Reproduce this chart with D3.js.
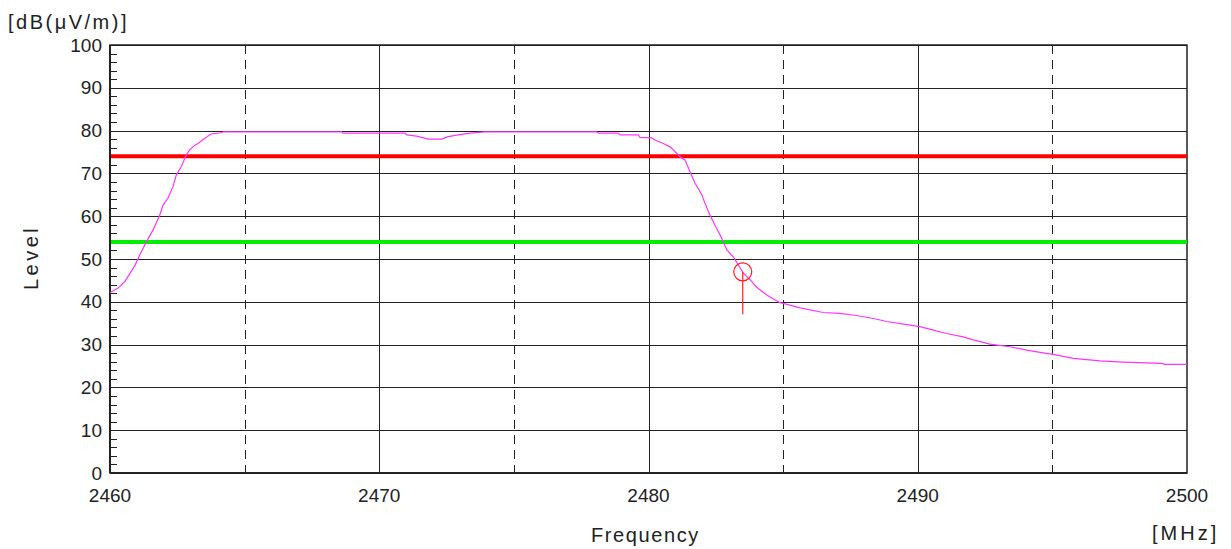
<!DOCTYPE html>
<html><head><meta charset="utf-8">
<script src="https://cdn.jsdelivr.net/npm/d3@7"></script>
<style>
body{margin:0;background:#fff;}
svg text{font-family:"Liberation Sans",Arial,sans-serif;fill:#222;}
</style></head>
<body><svg id="c" width="1231" height="549"></svg>
<script>
// ---- data ----
const freqTicks = [2460, 2470, 2480, 2490, 2500];
const dashedFreqs = [2465, 2475, 2485, 2495];
const levelTicks = [0,10,20,30,40,50,60,70,80,90,100];
const limitPeak = 74;   // red line
const limitAvg = 54;    // green line
const traceFreq = [2460.00,2460.30,2460.55,2460.92,2461.10,2461.35,2461.60,2461.85,2461.97,2462.15,2462.34,2462.46,2462.65,2462.83,2462.96,2463.15,2463.27,2463.52,2463.76,2464.13,2464.20,2468.61,2468.65,2470.96,2471.02,2471.39,2471.82,2472.32,2472.56,2472.94,2473.37,2473.93,2478.08,2478.14,2478.88,2478.94,2479.62,2479.68,2480.12,2480.24,2480.55,2480.80,2480.92,2481.17,2481.36,2481.54,2481.73,2481.98,2482.10,2482.28,2482.47,2482.66,2482.78,2482.91,2483.15,2483.34,2483.52,2483.77,2484.02,2484.14,2484.39,2484.63,2484.88,2485.07,2485.63,2486.49,2487.11,2487.73,2488.35,2488.85,2489.46,2490.08,2490.58,2491.07,2491.69,2492.06,2492.68,2493.43,2494.05,2494.54,2495.03,2495.78,2496.77,2497.63,2499.06,2499.18,2500.00];
const traceLevel = [42.1,43.2,44.7,48.4,50.9,54.0,56.8,60.3,62.6,64.2,66.9,69.6,71.6,74.3,75.5,76.6,77.0,78.2,79.2,79.5,79.7,79.7,79.4,79.4,79.0,78.7,78.0,78.0,78.6,79.0,79.4,79.7,79.7,79.4,79.4,79.0,79.0,78.4,78.3,77.8,77.0,76.2,75.5,73.9,73.1,70.4,67.7,65.0,63.0,60.3,57.9,55.6,54.0,52.1,50.5,48.6,46.7,45.2,43.4,42.8,41.6,40.7,39.8,39.5,38.6,37.5,37.3,36.8,36.1,35.4,34.8,34.2,33.4,32.6,31.8,31.1,30.1,29.5,28.7,28.2,27.7,26.8,26.2,25.9,25.6,25.4,25.4];
const markerFreq = 2483.5, markerLevel = 47.0, markerLineEnd = 37.1;

// ---- chart ----
const svg = d3.select("#c");
const L = 110, R = 1187, T = 45, B = 473;
const x = d3.scaleLinear().domain([2460, 2500]).range([L, R]);
const y = d3.scaleLinear().domain([0, 100]).range([B, T]);

// horizontal grid
svg.append("g").selectAll("line").data(levelTicks).join("line")
  .attr("x1", L).attr("x2", R).attr("y1", d => Math.round(y(d))+0.5).attr("y2", d => Math.round(y(d))+0.5)
  .attr("stroke", "#222").attr("stroke-width", 1);
// vertical solid grid
svg.append("g").selectAll("line").data(freqTicks.slice(1,-1)).join("line")
  .attr("x1", d => Math.round(x(d))+0.5).attr("x2", d => Math.round(x(d))+0.5).attr("y1", T).attr("y2", B)
  .attr("stroke", "#222").attr("stroke-width", 1);
// vertical dashed grid
svg.append("g").selectAll("line").data(dashedFreqs).join("line")
  .attr("x1", d => Math.round(x(d))+0.5).attr("x2", d => Math.round(x(d))+0.5).attr("y1", T).attr("y2", B)
  .attr("stroke", "#222").attr("stroke-width", 1).attr("stroke-dasharray", "9,6");
// minor ticks on y axis
const minor = d3.range(0, 101, 2);
svg.append("g").selectAll("line").data(minor).join("line")
  .attr("x1", L).attr("x2", L+7).attr("y1", d => Math.round(y(d))+0.5).attr("y2", d => Math.round(y(d))+0.5)
  .attr("stroke", "#222").attr("stroke-width", 1);

// frame
svg.append("rect").attr("x", L).attr("y", T).attr("width", R-L).attr("height", B-T)
  .attr("fill", "none").attr("stroke", "#222").attr("stroke-width", 1.5);
svg.append("line").attr("x1", L).attr("x2", L).attr("y1", T).attr("y2", B).attr("stroke","#222").attr("stroke-width",2);
svg.append("line").attr("x1", L).attr("x2", R).attr("y1", B).attr("y2", B).attr("stroke","#222").attr("stroke-width",2);

// limit lines
svg.append("line").attr("x1", L+1).attr("x2", R).attr("y1", y(limitPeak)).attr("y2", y(limitPeak))
  .attr("stroke", "#ff0000").attr("stroke-width", 4);
svg.append("line").attr("x1", L+1).attr("x2", R).attr("y1", y(limitAvg)).attr("y2", y(limitAvg))
  .attr("stroke", "#00ee00").attr("stroke-width", 4);

// trace
const pts = traceFreq.map((f, i) => [f, traceLevel[i]]);
svg.append("path").datum(pts)
  .attr("d", d3.line().x(d => x(d[0])).y(d => y(d[1])))
  .attr("fill", "none").attr("stroke", "#ff33ff").attr("stroke-width", 1.2);

// marker
svg.append("line").attr("x1", x(markerFreq)).attr("x2", x(markerFreq))
  .attr("y1", y(markerLevel)).attr("y2", y(markerLineEnd)).attr("stroke", "#ff2020").attr("stroke-width", 1.2);
svg.append("circle").attr("cx", x(markerFreq)).attr("cy", y(markerLevel)).attr("r", 9)
  .attr("fill", "none").attr("stroke", "#ff2020").attr("stroke-width", 1.2);

// y tick labels
svg.append("g").selectAll("text").data(levelTicks).join("text")
  .attr("x", 102).attr("y", d => y(d)).attr("dy", "0.35em").attr("text-anchor", "end")
  .attr("font-size", 19).text(d => d);
// x tick labels
svg.append("g").selectAll("text").data(freqTicks).join("text")
  .attr("x", d => x(d)).attr("y", 495).attr("dy", "0.35em").attr("text-anchor", "middle")
  .attr("font-size", 19).text(d => d);

// axis titles
svg.append("text").attr("x", 591).attr("y", 535).attr("dy", "0.35em").attr("text-anchor", "start")
  .attr("font-size", 20).attr("letter-spacing", 1.6).text("Frequency");
svg.append("text").attr("x", 1152).attr("y", 533).attr("dy", "0.35em").attr("text-anchor", "start")
  .attr("font-size", 20).attr("letter-spacing", 3).text("[MHz]");
svg.append("text").attr("transform", "translate(31,290) rotate(-90)").attr("dy", "0.35em").attr("text-anchor", "start")
  .attr("font-size", 20).attr("letter-spacing", 3.5).text("Level");
svg.append("text").attr("x", 8).attr("y", 22).attr("dy", "0.35em").attr("text-anchor", "start")
  .attr("font-size", 20).attr("letter-spacing", 2.5).text("[dB(μV/m)]");
</script></body></html>
